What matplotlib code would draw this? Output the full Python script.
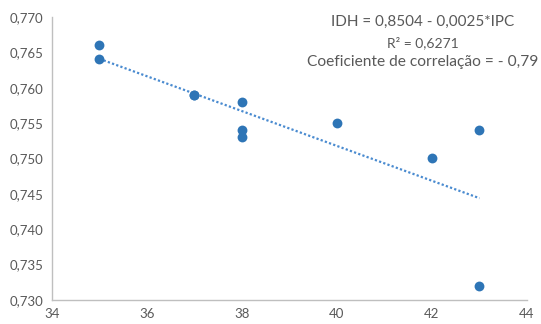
import numpy as np
import matplotlib
matplotlib.use("Agg")
import matplotlib.pyplot as plt
from matplotlib.ticker import FuncFormatter

ipc = [35, 35, 37, 37, 38, 38, 38, 40, 42, 43, 43]
idh = [0.766, 0.764, 0.759, 0.759, 0.758, 0.754, 0.753, 0.755, 0.750, 0.754, 0.732]
x_ticks = [34, 36, 38, 40, 42, 44]
y_ticks = [0.730, 0.735, 0.740, 0.745, 0.750, 0.755, 0.760, 0.765, 0.770]
annotation = ["IDH = 0,8504 - 0,0025*IPC", "R² = 0,6271", "Coeficiente de correlação = - 0,79"]

plt.rcParams['font.family'] = ['Lato', 'DejaVu Sans']
gray = '#595959'

fig = plt.figure(figsize=(5.41, 3.24), dpi=100)
ax = fig.add_axes([52/541, 24/324, (527-52)/541, (300-17)/324])

ax.scatter(ipc, idh, s=50, color='#2E75B6', zorder=3, linewidths=0)

coef = np.polyfit(ipc, idh, 1)
xs = np.array([min(ipc), max(ipc)])
ax.plot(xs, np.polyval(coef, xs), linestyle=(0, (1, 1)), color='#4A8BD0', linewidth=1.6, zorder=2)

ax.set_xlim(34, 44)
ax.set_ylim(0.730, 0.770)
ax.set_xticks(x_ticks)
ax.set_yticks(y_ticks)
ax.xaxis.set_major_formatter(FuncFormatter(lambda v, p: f"{v:.0f}"))
ax.yaxis.set_major_formatter(FuncFormatter(lambda v, p: f"{v:.3f}".replace('.', ',')))
ax.tick_params(axis='both', length=0, colors=gray, labelsize=9.5, pad=6)
for s in ['top', 'right']:
    ax.spines[s].set_visible(False)
for s in ['left', 'bottom']:
    ax.spines[s].set_color('#BFBFBF')
    ax.spines[s].set_linewidth(1.0)

cx = 423/541
fig.text(cx, 1 - 22/324, annotation[0], ha='center', va='center', color=gray, fontsize=11)
fig.text(cx, 1 - 43/324, annotation[1], ha='center', va='center', color=gray, fontsize=10)
fig.text(cx, 1 - 62/324, annotation[2], ha='center', va='center', color=gray, fontsize=11.2)

fig.savefig('out.png', dpi=100)
